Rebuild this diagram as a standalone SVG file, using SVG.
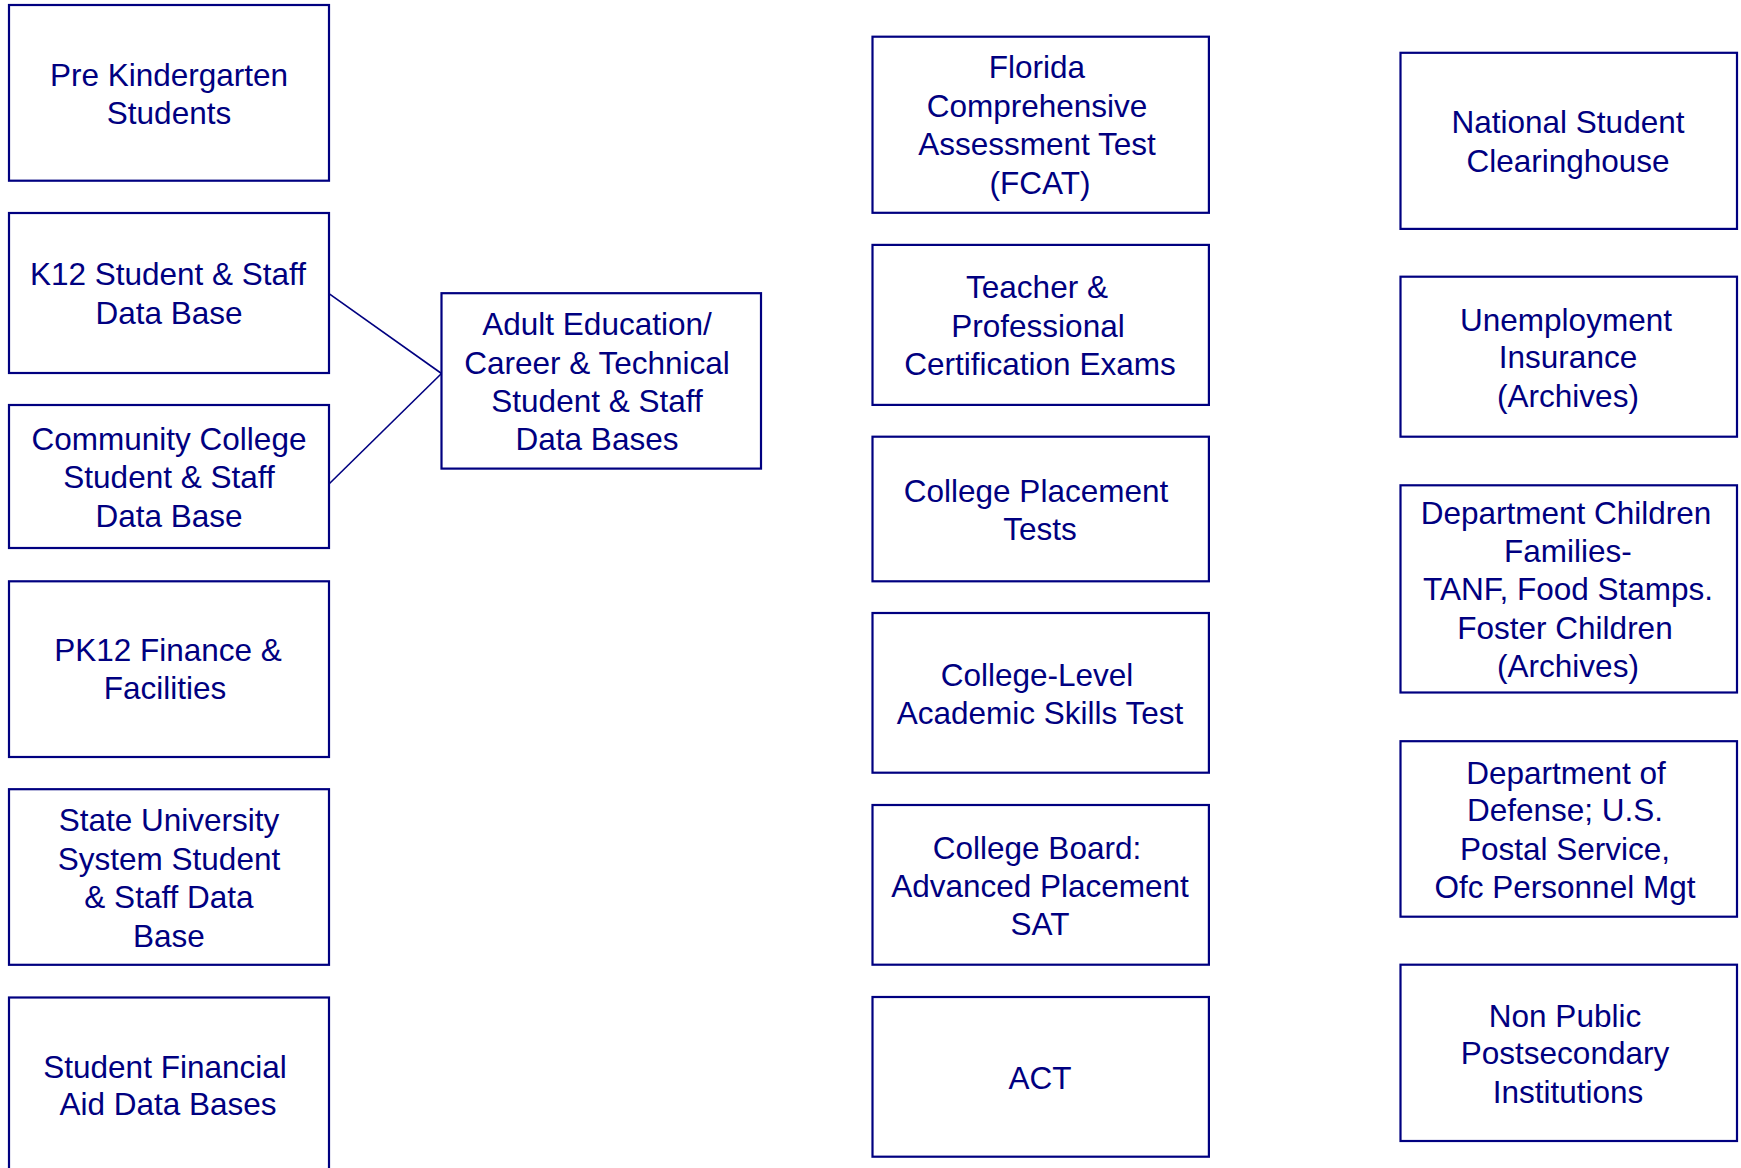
<svg xmlns="http://www.w3.org/2000/svg" width="1741" height="1168" viewBox="0 0 1741 1168">
<style>
.box{fill:#ffffff;stroke:#000080;stroke-width:2.2}
.t{font-family:"Liberation Sans",Arial,sans-serif;font-size:31.5px;fill:#000080;text-anchor:middle}
.c{fill:none;stroke:#000080;stroke-width:1.6}
</style>
<rect width="1741" height="1168" fill="#ffffff"/>
<g id="connectors">
<line class="c" x1="329" y1="293.6" x2="441.5" y2="373.5"/>
<line class="c" x1="329" y1="484" x2="441.5" y2="373.5"/>
</g>
<g id="prek"><rect class="box" x="9" y="5" width="320" height="175.7"/>
<text class="t" x="169" y="86">Pre Kindergarten</text><text class="t" x="169" y="124">Students</text></g>
<g id="k12"><rect class="box" x="9" y="213" width="320" height="160"/>
<text class="t" x="168" y="285">K12 Student &amp; Staff</text><text class="t" x="169" y="323.5">Data Base</text></g>
<g id="cc"><rect class="box" x="9" y="405" width="320" height="143"/>
<text class="t" x="169" y="450">Community College</text><text class="t" x="169" y="488">Student &amp; Staff</text><text class="t" x="169" y="527">Data Base</text></g>
<g id="pk12"><rect class="box" x="9" y="581.3" width="320" height="175.7"/>
<text class="t" x="168" y="661">PK12 Finance &amp;</text><text class="t" x="165" y="699">Facilities</text></g>
<g id="sus"><rect class="box" x="9" y="789.2" width="320" height="175.6"/>
<text class="t" x="169" y="831">State University</text><text class="t" x="169" y="870">System Student</text><text class="t" x="169" y="907.5">&amp; Staff Data</text><text class="t" x="169" y="946.5">Base</text></g>
<g id="sfa"><rect class="box" x="9" y="997.5" width="320" height="200"/>
<text class="t" x="165" y="1077.5">Student Financial</text><text class="t" x="168" y="1115">Aid Data Bases</text></g>
<g id="adult"><rect class="box" x="441.5" y="293.2" width="319.5" height="175.4"/>
<text class="t" x="597" y="335">Adult Education/</text><text class="t" x="597" y="373.5">Career &amp; Technical</text><text class="t" x="597" y="411.5">Student &amp; Staff</text><text class="t" x="597" y="450">Data Bases</text></g>
<g id="fcat"><rect class="box" x="872.5" y="36.7" width="336.4" height="176.1"/>
<text class="t" x="1037" y="78">Florida</text><text class="t" x="1037" y="116.5">Comprehensive</text><text class="t" x="1037" y="155">Assessment Test</text><text class="t" x="1040" y="193.5">(FCAT)</text></g>
<g id="teacher"><rect class="box" x="872.5" y="244.9" width="336.4" height="160"/>
<text class="t" x="1037" y="298">Teacher &amp;</text><text class="t" x="1038" y="337">Professional</text><text class="t" x="1040" y="375">Certification Exams</text></g>
<g id="cpt"><rect class="box" x="872.5" y="436.7" width="336.4" height="144.6"/>
<text class="t" x="1036" y="501.5">College Placement</text><text class="t" x="1040" y="540">Tests</text></g>
<g id="clast"><rect class="box" x="872.5" y="613" width="336.4" height="159.7"/>
<text class="t" x="1037" y="685.5">College-Level</text><text class="t" x="1040" y="723.5">Academic Skills Test</text></g>
<g id="cb"><rect class="box" x="872.5" y="805" width="336.4" height="159.7"/>
<text class="t" x="1037" y="859">College Board:</text><text class="t" x="1040" y="896.5">Advanced Placement</text><text class="t" x="1040" y="934.5">SAT</text></g>
<g id="act"><rect class="box" x="872.5" y="997" width="336.4" height="159.7"/>
<text class="t" x="1040" y="1088.5">ACT</text></g>
<g id="nsc"><rect class="box" x="1400.5" y="52.8" width="336.5" height="176.1"/>
<text class="t" x="1568" y="132.5">National Student</text><text class="t" x="1568" y="171.5">Clearinghouse</text></g>
<g id="ui"><rect class="box" x="1400.5" y="276.7" width="336.5" height="160"/>
<text class="t" x="1566" y="330.5">Unemployment</text><text class="t" x="1568" y="368">Insurance</text><text class="t" x="1568" y="407">(Archives)</text></g>
<g id="dcf"><rect class="box" x="1400.5" y="485.3" width="336.5" height="207.2"/>
<text class="t" x="1566" y="523.5">Department Children</text><text class="t" x="1568" y="562">Families-</text><text class="t" x="1568" y="600">TANF, Food Stamps.</text><text class="t" x="1565" y="639">Foster Children</text><text class="t" x="1568" y="677">(Archives)</text></g>
<g id="dod"><rect class="box" x="1400.5" y="741.2" width="336.5" height="175.5"/>
<text class="t" x="1566" y="783.5">Department of</text><text class="t" x="1565" y="821">Defense; U.S.</text><text class="t" x="1565" y="860">Postal Service,</text><text class="t" x="1565" y="897.5">Ofc Personnel Mgt</text></g>
<g id="npp"><rect class="box" x="1400.5" y="964.7" width="336.5" height="176.3"/>
<text class="t" x="1565" y="1026.5">Non Public</text><text class="t" x="1565" y="1064">Postsecondary</text><text class="t" x="1568" y="1103">Institutions</text></g>
</svg>
